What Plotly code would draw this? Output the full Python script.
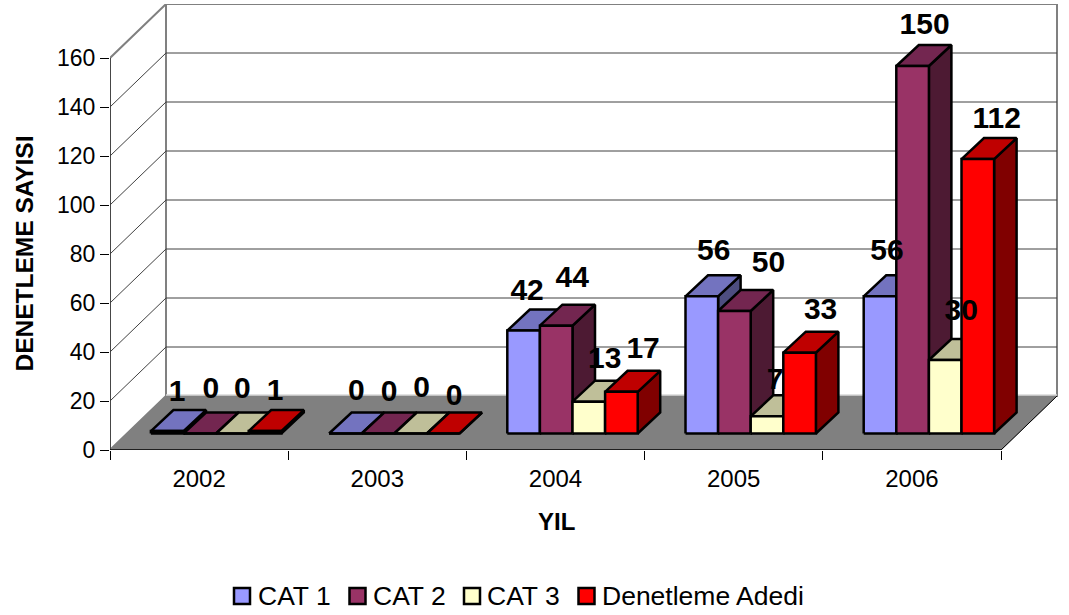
import plotly.graph_objects as go

# ---- data ----
YEARS = ["2002", "2003", "2004", "2005", "2006"]
SERIES = ["CAT 1", "CAT 2", "CAT 3", "Denetleme Adedi"]
CAT1 = [1, 0, 42, 56, 56]
CAT2 = [0, 0, 44, 50, 150]
CAT3 = [0, 0, 13, 7, 30]
ADEDI = [1, 0, 17, 33, 112]
VALUES = [CAT1, CAT2, CAT3, ADEDI]
Y_TICKS = [0, 20, 40, 60, 80, 100, 120, 140, 160]

# ---- styling / projection ----
FRONT = ["#9999FF", "#993366", "#FFFFCC", "#FF0000"]
TOP = ["#7373BF", "#732650", "#BFBF99", "#BF0000"]
SIDE = ["#4D4D80", "#4D1A33", "#808066", "#800000"]
L, T, R, B = 110, 4, 1058, 450
PX_X, PX_Y = 178.2, 2.45      # pixels per category, pixels per unit
WALL_DX, WALL_DY = 56, 54     # oblique offset of back wall
BAR_IN_X, BAR_IN_Y = 17, 16.5  # bars' front plane, from the chart's front
BAR_DX, BAR_DY = 22.5, 21     # bar depth
GAP, BAR_W = 23.9 / PX_X, 32.6 / PX_X
KEY_SWATCH = [242, 357.5, 472, 586.5]  # swatch centres, pixels
KEY_TEXT = [258, 373, 487, 602]        # text left edges, pixels
KEY_Y = 596
# per-label offsets in pixels from the bar's front-top centre
NUDGE = [
    [(10, -38), (11, -41.5), (3.5, -38), (12, -44), (7, -44)],
    [(11, -43.5), (11, -40), (16, -46), (34, -47), (12, -40)],
    [(10, -43.5), (11, -44.5), (16, -41), (8, -35), (16, -48)],
    [(10, -39), (11, -36.5), (21.7, -41), (21, -41), (19, -39)],
]


def P(x, y, dx=0, dy=0):
    """data-space point shifted by a pixel offset (dy upward)."""
    return x + dx / PX_X, y + dy / PX_Y


def poly(points, fill=None, line="#000000", width=2.5):
    xs, ys = [], []
    for group in points:
        for p in list(group) + [group[0]]:
            xs.append(p[0]); ys.append(p[1])
        xs.append(None); ys.append(None)
    return go.Scatter(x=xs, y=ys, mode="lines", fill="toself" if fill else None,
                      fillcolor=fill, line=dict(color=line, width=width),
                      hoverinfo="skip", showlegend=False, cliponaxis=False)


def seg(pairs, color, width):
    xs, ys = [], []
    for a, b in pairs:
        xs += [a[0], b[0], None]; ys += [a[1], b[1], None]
    return go.Scatter(x=xs, y=ys, mode="lines", line=dict(color=color, width=width),
                      hoverinfo="skip", showlegend=False, cliponaxis=False)


def px_x(p):
    return (p - L) / (R - L)


def px_y(p):
    return (B - p) / (B - T)


n = len(YEARS)
top = max(Y_TICKS)
fig = go.Figure()
w = (WALL_DX, WALL_DY)
# walls
fig.add_trace(poly([[P(0, 0, *w), P(n, 0, *w), P(n, top, *w), P(0, top, *w)]], "#FFFFFF", "#808080", 2))
fig.add_trace(poly([[P(0, 0), P(0, 0, *w), P(0, top, *w), P(0, top)]], "#FFFFFF", "#808080", 2))
# gridlines
fig.add_trace(seg([(P(0, v), P(0, v, *w)) for v in Y_TICKS[1:-1]] +
                  [(P(0, v, *w), P(n, v, *w)) for v in Y_TICKS[1:-1]], "#404040", 1))
# floor
fig.add_trace(poly([[P(0, 0), P(n, 0), P(n, 0, *w), P(0, 0, *w)]], "#808080", "#808080", 1))
fig.add_trace(seg([(P(0, 0, WALL_DX, WALL_DY + 1), P(n, 0, WALL_DX, WALL_DY + 1))], "#D8D8D8", 1.5))
fig.add_trace(seg([(P(n, 0), P(n, 0, *w))], "#000000", 1))
# axis lines
fig.add_trace(seg([(P(0, 0), P(0, top))], "#333333", 1.5))
fig.add_trace(seg([(P(0, 0), P(n, 0))], "#000000", 1.5))

# bars, painted left to right
for s, vals in enumerate(VALUES):
    fronts, tops, sides = [], [], []
    for i, v in enumerate(vals):
        x0 = i + GAP + s * BAR_W
        x1 = x0 + BAR_W
        ins = (BAR_IN_X, BAR_IN_Y)
        a = P(x0, 0, *ins); b = P(x1, 0, *ins); c = P(x1, v, *ins); d = P(x0, v, *ins)
        dp = (BAR_IN_X + BAR_DX, BAR_IN_Y + BAR_DY)
        e = P(x1, 0, *dp); f = P(x1, v, *dp); g = P(x0, v, *dp)
        fronts.append([a, b, c, d])
        tops.append([d, c, f, g])
        sides.append([b, e, f, c])
    fig.add_trace(poly(sides, SIDE[s]))
    fig.add_trace(poly(tops, TOP[s]))
    fig.add_trace(poly(fronts, FRONT[s]))

# data labels
for s, vals in enumerate(VALUES):
    xs, ys = [], []
    for i, v in enumerate(vals):
        x = i + GAP + (s + 0.5) * BAR_W
        px, py = P(x, v, BAR_IN_X + NUDGE[s][i][0], BAR_IN_Y - NUDGE[s][i][1])
        xs.append(px); ys.append(py)
    fig.add_trace(go.Scatter(x=xs, y=ys, mode="text", text=[str(v) for v in vals],
                             textposition="middle center", cliponaxis=False,
                             textfont=dict(family="Liberation Sans", size=30, color="#000000"),
                             texttemplate="<b>%{text}</b>", hoverinfo="skip", showlegend=False))

annotations = [
    dict(text="<b>YIL</b>", x=px_x(556), y=px_y(521), xref="paper", yref="paper",
         showarrow=False, font=dict(size=24), xanchor="center", yanchor="middle"),
    dict(text="<b>DENETLEME SAYISI</b>", x=px_x(24), y=px_y(253.5), xref="paper", yref="paper",
         showarrow=False, font=dict(size=24.5), textangle=-90, xanchor="center", yanchor="middle"),
]
shapes = []
# key below the axis
for s, name in enumerate(SERIES):
    annotations.append(dict(text=name, x=px_x(KEY_TEXT[s]), y=px_y(KEY_Y), xref="paper", yref="paper",
                            showarrow=False, font=dict(size=26.5), xanchor="left", yanchor="middle",
                            xshift=-1, borderpad=0))
    shapes.append(dict(type="rect", xref="paper", yref="paper",
                       x0=px_x(KEY_SWATCH[s] - 8), x1=px_x(KEY_SWATCH[s] + 8),
                       y0=px_y(KEY_Y + 8), y1=px_y(KEY_Y - 8),
                       fillcolor=FRONT[s], line=dict(color="#000000", width=2.5)))

fig.update_layout(
    width=1069, height=615, autosize=False, showlegend=False,
    margin=dict(l=L, r=1069 - R, t=T, b=615 - B, pad=0),
    paper_bgcolor="#FFFFFF", plot_bgcolor="#FFFFFF",
    font=dict(family="Liberation Sans", color="#000000", size=23),
    xaxis=dict(range=[0, (R - L) / PX_X], tickmode="array",
               tickvals=[i + 0.5 for i in range(n)], ticktext=YEARS,
               ticks="outside", ticklen=7, tickwidth=0, tickcolor="rgba(0,0,0,0)",
               showgrid=False, zeroline=False, showline=False,
               tickfont=dict(size=24),
               minor=dict(tickmode="linear", tick0=0, dtick=1, ticks="outside", ticklen=9,
                          tickwidth=1, tickcolor="#000000", showgrid=False)),
    yaxis=dict(range=[0, (B - T) / PX_Y], tickmode="array", tickvals=Y_TICKS,
               ticks="outside", ticklen=9, tickwidth=1, tickcolor="#000000",
               showgrid=False, zeroline=False, showline=False, tickfont=dict(size=23)),
    annotations=annotations,
    shapes=shapes,
)
fig.write_html("out.html", config={"displayModeBar": False},
               post_script="document.body.style.margin='0';")
